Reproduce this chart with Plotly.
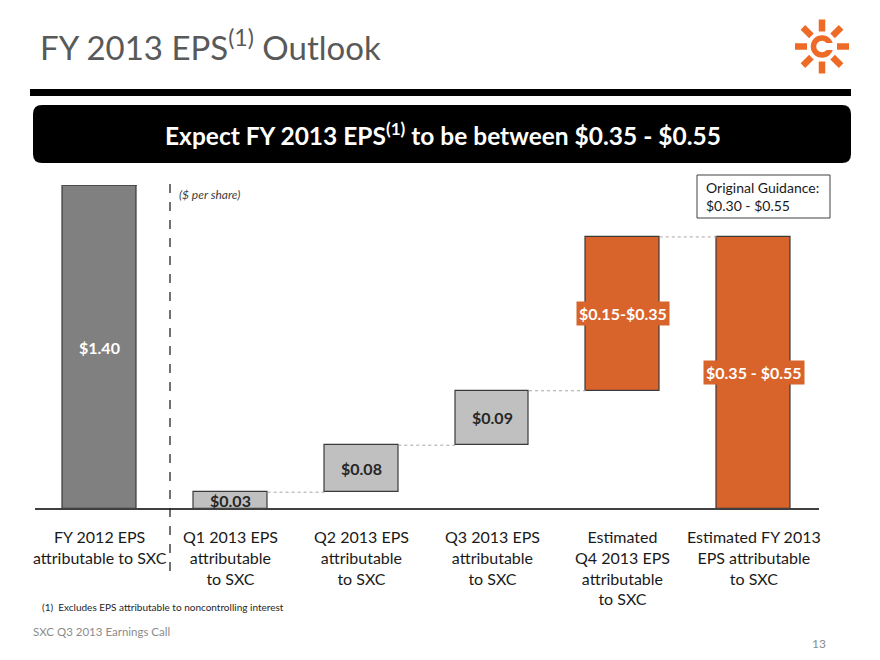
import math
import plotly.graph_objects as go

# ---------------- data ----------------
categories = [
    "FY 2012 EPS<br>attributable to SXC",
    "Q1 2013 EPS<br>attributable<br>to SXC",
    "Q2 2013 EPS<br>attributable<br>to SXC",
    "Q3 2013 EPS<br>attributable<br>to SXC",
    "Estimated<br>Q4 2013 EPS<br>attributable<br>to SXC",
    "Estimated FY 2013<br>EPS attributable<br>to SXC",
]
bar_labels = ["$1.40", "$0.03", "$0.08", "$0.09", "$0.15-$0.35", "$0.35 - $0.55"]
bar_base = [0.0, 0.0, 0.034, 0.129, 0.239, 0.0]
bar_top = [1.40, 0.034, 0.129, 0.239, 0.55, 0.55]
bar_colors = ["#808080", "#C0C0C0", "#C0C0C0", "#C0C0C0", "#D8642B", "#D8642B"]
label_colors = ["#FFFFFF", "#262626", "#262626", "#262626", "#FFFFFF", "#FFFFFF"]
label_bg = [None, None, None, None, "#D8642B", "#D8642B"]
y_max = 0.655

W, H = 880, 660
FONT = "Lato"


def fx(px):
    return px / W


def fy(py):
    return 1 - py / H


bar_width = 0.565
x_idx = list(range(len(categories)))

fig = go.Figure()
fig.add_trace(go.Bar(
    x=x_idx,
    y=[t - b for t, b in zip(bar_top, bar_base)],
    base=bar_base,
    width=bar_width,
    marker=dict(color=bar_colors, line=dict(color="#3A3A3A", width=1.2)),
    hoverinfo="skip",
    showlegend=False,
))

shapes = []
annotations = []

# connectors
for i in range(1, len(categories) - 1):
    shapes.append(dict(type="line", xref="x", yref="y",
                       x0=i + bar_width / 2, x1=i + 1 - bar_width / 2,
                       y0=bar_top[i], y1=bar_top[i],
                       line=dict(color="#A6A6A6", width=1, dash="dot")))

# top edge of clipped first bar
shapes.append(dict(type="line", xref="x", yref="y",
                   x0=-bar_width / 2, x1=bar_width / 2, y0=y_max, y1=y_max,
                   line=dict(color="#3A3A3A", width=1.5)))

# baseline
shapes.append(dict(type="line", xref="paper", yref="paper",
                   x0=fx(35), x1=fx(819), y0=fy(509), y1=fy(509),
                   line=dict(color="#404040", width=2)))

# dashed separator
shapes.append(dict(type="line", xref="paper", yref="paper",
                   x0=fx(170), x1=fx(170), y0=fy(184), y1=fy(580),
                   line=dict(color="#262626", width=1.3, dash="dash")))

# title rule
shapes.append(dict(type="rect", xref="paper", yref="paper",
                   x0=fx(30), x1=fx(851), y0=fy(96), y1=fy(89),
                   fillcolor="#000000", line=dict(width=0)))

# banner (rounded rect)
bx0, bx1, by0, by1, r = 33, 851, 105, 163, 9
path = (f"M {fx(bx0 + r)} {fy(by0)} L {fx(bx1 - r)} {fy(by0)} "
        f"Q {fx(bx1)} {fy(by0)} {fx(bx1)} {fy(by0 + r)} "
        f"L {fx(bx1)} {fy(by1 - r)} Q {fx(bx1)} {fy(by1)} {fx(bx1 - r)} {fy(by1)} "
        f"L {fx(bx0 + r)} {fy(by1)} Q {fx(bx0)} {fy(by1)} {fx(bx0)} {fy(by1 - r)} "
        f"L {fx(bx0)} {fy(by0 + r)} Q {fx(bx0)} {fy(by0)} {fx(bx0 + r)} {fy(by0)} Z")
shapes.append(dict(type="path", xref="paper", yref="paper", path=path,
                   fillcolor="#000000", line=dict(width=0)))

# original guidance box
shapes.append(dict(type="rect", xref="paper", yref="paper",
                   x0=fx(697), x1=fx(830), y0=fy(218), y1=fy(175),
                   fillcolor="#FFFFFF", line=dict(color="#404040", width=1)))

# logo
LOGO = "#EE6A27"
cx, cy = 822, 46.5
for k in range(8):
    a = math.radians(k * 45)
    r0, r1 = 15, 27
    shapes.append(dict(type="line", xref="paper", yref="paper",
                       x0=fx(cx + r0 * math.cos(a)), y0=fy(cy - r0 * math.sin(a)),
                       x1=fx(cx + r1 * math.cos(a)), y1=fy(cy - r1 * math.sin(a)),
                       line=dict(color=LOGO, width=6.5)))
rc = 8.5
shapes.append(dict(type="circle", xref="paper", yref="paper",
                   x0=fx(cx - rc), x1=fx(cx + rc), y0=fy(cy + rc), y1=fy(cy - rc),
                   line=dict(color=LOGO, width=5.5), fillcolor="rgba(0,0,0,0)"))
shapes.append(dict(type="rect", xref="paper", yref="paper",
                   x0=fx(cx + 2), x1=fx(cx + 14), y0=fy(cy + 3.5), y1=fy(cy - 3.5),
                   fillcolor="#FFFFFF", line=dict(width=0)))

# bar labels
for i, lab in enumerate(bar_labels):
    yc = (bar_base[i] + min(bar_top[i], y_max)) / 2
    ann = dict(x=x_idx[i], y=yc, xref="x", yref="y", text=f"<b>{lab}</b>",
               showarrow=False,
               font=dict(family=FONT, size=16, color=label_colors[i]))
    if label_bg[i]:
        ann.update(bgcolor=label_bg[i], borderpad=2)
    annotations.append(ann)

# category labels
for i, cat in enumerate(categories):
    annotations.append(dict(x=x_idx[i], y=fy(525), xref="x", yref="paper",
                            text=cat, showarrow=False, yanchor="top", align="center",
                            font=dict(family=FONT, size=16, color="#1A1A1A")))

# texts
annotations += [
    dict(x=fx(38), y=fy(45), xref="paper", yref="paper", xanchor="left", yanchor="middle",
         text="FY 2013 EPS<sup>(1)</sup> Outlook", showarrow=False,
         font=dict(family=FONT, size=33, color="#595959")),
    dict(x=fx(443), y=fy(134), xref="paper", yref="paper", xanchor="center", yanchor="middle",
         text="<b>Expect FY 2013 EPS<sup>(1)</sup> to be between $0.35 - $0.55</b>", showarrow=False,
         font=dict(family=FONT, size=24.5, color="#FFFFFF")),
    dict(x=fx(177), y=fy(195), xref="paper", yref="paper", xanchor="left", yanchor="middle",
         text="<i>($ per share)</i>", showarrow=False,
         font=dict(family=FONT, size=12, color="#404040")),
    dict(x=fx(704), y=fy(196.5), xref="paper", yref="paper", xanchor="left", yanchor="middle",
         text="Original Guidance:<br>$0.30 - $0.55", showarrow=False, align="left",
         font=dict(family=FONT, size=14, color="#1A1A1A")),
    dict(x=fx(40), y=fy(607), xref="paper", yref="paper", xanchor="left", yanchor="middle",
         text="(1)  Excludes EPS attributable to noncontrolling interest", showarrow=False,
         font=dict(family=FONT, size=10, color="#262626")),
    dict(x=fx(31), y=fy(631), xref="paper", yref="paper", xanchor="left", yanchor="middle",
         text="SXC Q3 2013 Earnings Call", showarrow=False,
         font=dict(family=FONT, size=11.5, color="#8C8C8C")),
    dict(x=fx(828), y=fy(643), xref="paper", yref="paper", xanchor="right", yanchor="middle",
         text="13", showarrow=False,
         font=dict(family=FONT, size=12, color="#8C8C8C")),
]

fig.update_layout(
    width=W, height=H,
    margin=dict(l=0, r=0, t=0, b=0),
    paper_bgcolor="#FFFFFF", plot_bgcolor="rgba(0,0,0,0)",
    xaxis=dict(domain=[fx(34.6), fx(818.9)], range=[-0.5, 5.5],
               showgrid=False, zeroline=False, showticklabels=False, ticks=""),
    yaxis=dict(domain=[fy(509), fy(185)], range=[0, y_max],
               showgrid=False, zeroline=False, showticklabels=False, ticks=""),
    shapes=shapes,
    annotations=annotations,
    font=dict(family=FONT),
    bargap=0,
)

fig.write_html("out.html", config={"displayModeBar": False},
               post_script="document.body.style.margin='0';")
